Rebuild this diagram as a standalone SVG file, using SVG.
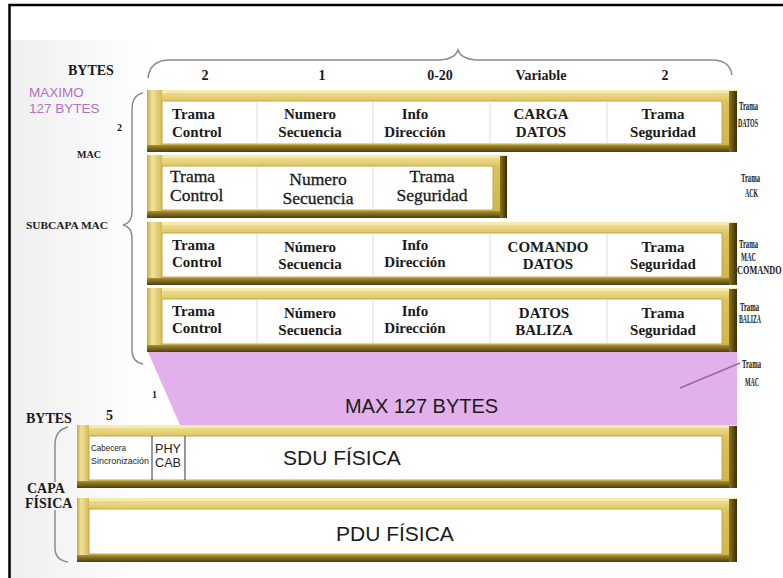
<svg xmlns="http://www.w3.org/2000/svg" width="783" height="578" viewBox="0 0 783 578">
<defs>
<linearGradient id="gGold" x1="0" y1="0" x2="0" y2="1">
<stop offset="0" stop-color="#f2e39c"/><stop offset="0.2" stop-color="#dcc25a"/><stop offset="1" stop-color="#cfb446"/>
</linearGradient>
<linearGradient id="gLeft" x1="0" y1="0" x2="1" y2="0">
<stop offset="0" stop-color="#c9ab3c"/><stop offset="0.35" stop-color="#f1e29e"/><stop offset="1" stop-color="#d6bb50"/>
</linearGradient>
<linearGradient id="gRight" x1="0" y1="0" x2="1" y2="0">
<stop offset="0" stop-color="#8a7420"/><stop offset="1" stop-color="#3a2d06"/>
</linearGradient>
<linearGradient id="gBot" x1="0" y1="0" x2="0" y2="1">
<stop offset="0" stop-color="#a68f35"/><stop offset="1" stop-color="#4d3e0c"/>
</linearGradient>
<linearGradient id="gBg" x1="0" y1="0" x2="1" y2="0">
<stop offset="0" stop-color="#efefef"/><stop offset="1" stop-color="#ffffff"/>
</linearGradient>
</defs>
<style>
.gold{fill:url(#gGold)}
.hl{fill:#f5eab2}
.lb{fill:url(#gLeft)}
.rb{fill:url(#gRight)}
.bb{fill:url(#gBot)}
.in{fill:#ffffff;stroke:#bfa64e;stroke-width:1}
.div{stroke:#dcdcdc;stroke-width:1}
.t{font-family:"Liberation Serif",serif;font-weight:bold;font-size:15px;fill:#1a1a1a;text-anchor:middle}
.t2{font-family:"Liberation Serif",serif;font-size:17.5px;fill:#1a1a1a;stroke:#1a1a1a;stroke-width:0.3;text-anchor:middle}
.ts{text-anchor:start}
.h{font-family:"Liberation Serif",serif;font-weight:bold;font-size:14px;fill:#1a1a1a;text-anchor:middle}
.lbl{font-family:"Liberation Serif",serif;font-weight:bold;font-size:14px;fill:#1a1a1a}
.sm{font-family:"Liberation Serif",serif;font-weight:bold;font-size:10px;fill:#1a1a1a}
.tiny{font-family:"Liberation Serif",serif;font-weight:bold;font-size:11.5px;fill:#1a1a1a}
.big{font-family:"Liberation Sans",Arial,sans-serif;font-size:21px;fill:#1a1a1a}
.ps{font-family:"Liberation Sans",Arial,sans-serif;fill:#222}
.br{fill:none;stroke:#8c8c8c;stroke-width:1.5}
</style>
<rect x="0" y="0" width="783" height="578" fill="#ffffff"/>
<rect x="10" y="40" width="140" height="538" fill="url(#gBg)"/>
<rect x="9.5" y="5" width="800" height="600" fill="none" stroke="#000" stroke-width="2.5"/>

<!-- pink max region -->
<polygon points="148,352 737,352 737,425 180,425" fill="#e2b0ea"/>
<text class="big" x="345" y="413" textLength="153" lengthAdjust="spacingAndGlyphs" fill="#2a1a30">MAX 127 BYTES</text>

<!-- braces -->
<g id="connectors">
<path class="br" d="M148,78 Q150,60 170,60 L440,60 Q455,59 458,50 Q461,59 476,60 L712,60 Q730,60 732,75"/>
<path class="br" d="M143,93 Q132,95 132,110 L132,212 Q132,223 123,225 Q132,227 132,238 L132,350 Q132,362 143,364"/>
<path class="br" d="M68,427 Q55,430 55,445 L55,482"/>
<path class="br" d="M55,510 L55,548 Q55,560 68,562"/>
<line x1="680" y1="388" x2="740" y2="363" stroke="#a060b0" stroke-width="1.5"/>
</g>

<!-- left labels -->
<g id="left-labels">
<text class="lbl" x="68" y="75" font-size="15">BYTES</text>
<text x="29" y="97" font-family="Liberation Sans,Arial,sans-serif" font-size="13.5" fill="#b371c2">MAXIMO</text>
<text x="29" y="113" font-family="Liberation Sans,Arial,sans-serif" font-size="13.5" fill="#b371c2">127 BYTES</text>
<text class="sm" x="117" y="131">2</text>
<text class="sm" x="77" y="158" textLength="24" lengthAdjust="spacingAndGlyphs">MAC</text>
<text class="sm" x="26" y="229" textLength="82" lengthAdjust="spacingAndGlyphs">SUBCAPA MAC</text>
<text class="sm" x="152" y="398" font-size="12">1</text>
<text class="lbl" x="26" y="423" font-size="13.5">BYTES</text>
<text class="lbl" x="106" y="420" font-size="12">5</text>
<text class="lbl" x="27" y="493" font-size="14">CAPA</text>
<text class="lbl" x="25" y="508" font-size="13">FÍSICA</text>
</g>

<!-- header -->
<g id="header">
<text class="h" x="205" y="80">2</text>
<text class="h" x="322" y="80">1</text>
<text class="h" x="440" y="80">0-20</text>
<text class="h" x="541" y="80">Variable</text>
<text class="h" x="665" y="80">2</text>
</g>

<!-- Row 1: Trama DATOS -->
<g id="row-datos">
<rect class="gold" x="147" y="90" width="590" height="62"/>
<rect class="hl" x="147" y="90" width="590" height="3"/>
<rect class="lb" x="147" y="90" width="15" height="62"/>
<rect class="bb" x="147" y="145" width="590" height="7"/>
<rect class="rb" x="729" y="91" width="8" height="61"/>
<rect class="in" x="162" y="101" width="560" height="43"/>
<line class="div" x1="257" y1="102" x2="257" y2="143"/>
<line class="div" x1="373" y1="102" x2="373" y2="143"/>
<line class="div" x1="490" y1="102" x2="490" y2="143"/>
<line class="div" x1="607" y1="102" x2="607" y2="143"/>
<text class="t ts" x="172" y="119">Trama</text><text class="t ts" x="172" y="137">Control</text>
<text class="t" x="310" y="119">Numero</text><text class="t" x="310" y="137">Secuencia</text>
<text class="t" x="415" y="119">Info</text><text class="t" x="415" y="137">Dirección</text>
<text class="t" x="541" y="119">CARGA</text><text class="t" x="541" y="137">DATOS</text>
<text class="t" x="663" y="119">Trama</text><text class="t" x="663" y="137">Seguridad</text>
<text class="tiny" x="739" y="110" textLength="19" lengthAdjust="spacingAndGlyphs">Trama</text>
<text class="tiny" x="738" y="127" textLength="20" lengthAdjust="spacingAndGlyphs">DATOS</text>
</g>

<!-- Row 2: Trama ACK -->
<g id="row-ack">
<rect class="gold" x="147" y="155" width="360" height="63"/>
<rect class="hl" x="147" y="155" width="360" height="3"/>
<rect class="lb" x="147" y="155" width="15" height="63"/>
<rect class="bb" x="147" y="211" width="360" height="7"/>
<rect class="rb" x="500" y="156" width="7" height="62"/>
<rect class="in" x="162" y="166" width="331" height="44"/>
<line class="div" x1="257" y1="167" x2="257" y2="209"/>
<line class="div" x1="373" y1="167" x2="373" y2="209"/>
<text class="t2 ts" x="170" y="182">Trama</text><text class="t2 ts" x="170" y="201">Control</text>
<text class="t2" x="318" y="185">Numero</text><text class="t2" x="318" y="204">Secuencia</text>
<text class="t2" x="432" y="182">Trama</text><text class="t2" x="432" y="201">Seguridad</text>
<text class="tiny" x="741" y="182" textLength="19" lengthAdjust="spacingAndGlyphs">Trama</text>
<text class="tiny" x="745" y="197" textLength="13" lengthAdjust="spacingAndGlyphs">ACK</text>
</g>

<!-- Row 3: Trama MAC COMANDO -->
<g id="row-comando">
<rect class="gold" x="147" y="222" width="590" height="63"/>
<rect class="hl" x="147" y="222" width="590" height="3"/>
<rect class="lb" x="147" y="222" width="15" height="63"/>
<rect class="bb" x="147" y="278" width="590" height="7"/>
<rect class="rb" x="729" y="223" width="8" height="62"/>
<rect class="in" x="162" y="233" width="560" height="44"/>
<line class="div" x1="257" y1="234" x2="257" y2="276"/>
<line class="div" x1="373" y1="234" x2="373" y2="276"/>
<line class="div" x1="490" y1="234" x2="490" y2="276"/>
<line class="div" x1="607" y1="234" x2="607" y2="276"/>
<text class="t ts" x="172" y="250">Trama</text><text class="t ts" x="172" y="267">Control</text>
<text class="t" x="310" y="252">Número</text><text class="t" x="310" y="269">Secuencia</text>
<text class="t" x="415" y="250">Info</text><text class="t" x="415" y="267">Dirección</text>
<text class="t" x="548" y="252">COMANDO</text><text class="t" x="548" y="269">DATOS</text>
<text class="t" x="663" y="252">Trama</text><text class="t" x="663" y="269">Seguridad</text>
<text class="tiny" x="739" y="248" textLength="19" lengthAdjust="spacingAndGlyphs">Trama</text>
<text class="tiny" x="741" y="261" textLength="15" lengthAdjust="spacingAndGlyphs">MAC</text>
<text class="tiny" font-size="10.5" transform="translate(737,274) scale(0.72,1)">COMANDO</text>
</g>

<!-- Row 4: Trama BALIZA -->
<g id="row-baliza">
<rect class="gold" x="147" y="288" width="590" height="64"/>
<rect class="hl" x="147" y="288" width="590" height="3"/>
<rect class="lb" x="147" y="288" width="15" height="64"/>
<rect class="bb" x="147" y="345" width="590" height="7"/>
<rect class="rb" x="729" y="289" width="8" height="63"/>
<rect class="in" x="162" y="299" width="560" height="45"/>
<line class="div" x1="257" y1="300" x2="257" y2="343"/>
<line class="div" x1="373" y1="300" x2="373" y2="343"/>
<line class="div" x1="490" y1="300" x2="490" y2="343"/>
<line class="div" x1="607" y1="300" x2="607" y2="343"/>
<text class="t ts" x="172" y="316">Trama</text><text class="t ts" x="172" y="333">Control</text>
<text class="t" x="310" y="318">Número</text><text class="t" x="310" y="335">Secuencia</text>
<text class="t" x="415" y="316">Info</text><text class="t" x="415" y="333">Dirección</text>
<text class="t" x="544" y="318">DATOS</text><text class="t" x="544" y="335">BALIZA</text>
<text class="t" x="663" y="318">Trama</text><text class="t" x="663" y="335">Seguridad</text>
<text class="tiny" x="740" y="311" textLength="19" lengthAdjust="spacingAndGlyphs">Trama</text>
<text class="tiny" x="739" y="323" textLength="22" lengthAdjust="spacingAndGlyphs">BALIZA</text>
</g>

<g id="label-trama-mac">
<text class="tiny" x="742" y="368" textLength="19" lengthAdjust="spacingAndGlyphs">Trama</text>
<text class="tiny" x="745" y="386" textLength="14" lengthAdjust="spacingAndGlyphs">MAC</text>
</g>

<!-- SDU FISICA -->
<g id="row-sdu">
<rect class="gold" x="77" y="425" width="660" height="63"/>
<rect class="hl" x="77" y="425" width="660" height="3"/>
<rect class="lb" x="77" y="425" width="12" height="63"/>
<rect class="bb" x="77" y="481" width="660" height="7"/>
<rect class="rb" x="729" y="426" width="8" height="62"/>
<rect class="in" x="89" y="436" width="633" height="44"/>
<line x1="152" y1="436" x2="152" y2="480" stroke="#333" stroke-width="1"/>
<line x1="185" y1="436" x2="185" y2="480" stroke="#333" stroke-width="1"/>
<text class="ps" x="91" y="451" font-size="9.5" textLength="35" lengthAdjust="spacingAndGlyphs">Cabecera</text>
<text class="ps" x="91" y="464" font-size="9.5" textLength="58" lengthAdjust="spacingAndGlyphs">Sincronización</text>
<text class="ps" x="155" y="453" font-size="12.5" textLength="26" lengthAdjust="spacingAndGlyphs">PHY</text>
<text class="ps" x="155" y="467" font-size="12.5" textLength="26" lengthAdjust="spacingAndGlyphs">CAB</text>
<text class="big" x="283" y="465">SDU FÍSICA</text>
</g>

<!-- PDU FISICA -->
<g id="row-pdu">
<rect class="gold" x="77" y="498" width="660" height="64"/>
<rect class="hl" x="77" y="498" width="660" height="3"/>
<rect class="lb" x="77" y="498" width="12" height="64"/>
<rect class="bb" x="77" y="555" width="660" height="7"/>
<rect class="rb" x="729" y="499" width="8" height="63"/>
<rect class="in" x="89" y="509" width="633" height="45"/>
<text class="big" x="336" y="541" font-size="20">PDU FÍSICA</text>
</g>
</svg>
